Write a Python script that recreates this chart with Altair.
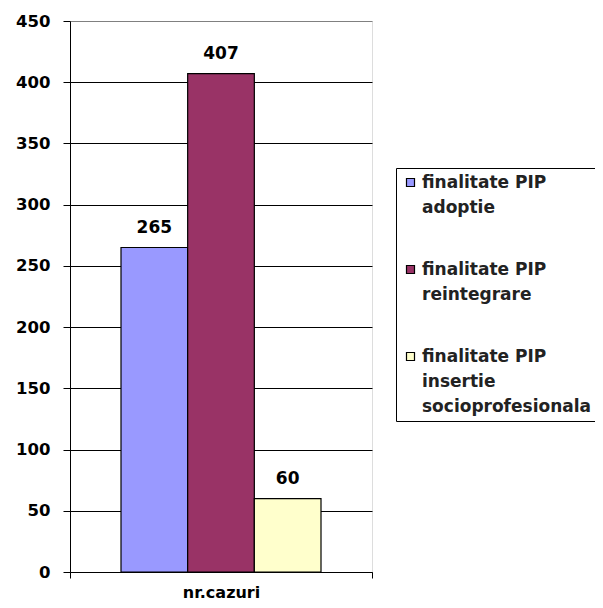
import altair as alt
import pandas as pd

categories = ["nr.cazuri"]
series = [
    "finalitate PIP|adoptie",
    "finalitate PIP|reintegrare",
    "finalitate PIP|insertie|socioprofesionala",
]
values = [265, 407, 60]
colors = ["#9999FF", "#993366", "#FFFFCC"]
y_ticks = [0, 50, 100, 150, 200, 250, 300, 350, 400, 450]

df = pd.DataFrame({
    "category": [categories[0]] * len(series),
    "series": series,
    "value": values,
})

FONT = "DejaVu Sans"

x = alt.X(
    "category:N",
    title=None,
    scale=alt.Scale(paddingInner=0, paddingOuter=0),
    axis=alt.Axis(
        labelAngle=0, tickBand="extent", tickSize=6, tickColor="black",
        domainColor="black", labelColor="black", labelFont=FONT,
        labelFontSize=16, labelFontWeight="bold", labelPadding=6, grid=False,
    ),
)
xo = alt.XOffset(
    "series:N", sort=series,
    scale=alt.Scale(paddingInner=0, paddingOuter=0.765),
)
y = alt.Y(
    "value:Q",
    title=None,
    scale=alt.Scale(domain=[0, 450], nice=False),
    axis=alt.Axis(
        values=y_ticks, tickSize=7, tickColor="black", domainColor="black",
        labelColor="black", labelFont=FONT, labelFontSize=16.5,
        labelFontWeight="bold", labelPadding=13, grid=True,
        gridColor={"condition": {"test": "datum.value === 450", "value": "#808080"}, "value": "black"},
        gridOpacity=1,
    ),
)
color = alt.Color(
    "series:N",
    sort=series,
    scale=alt.Scale(domain=series, range=colors),
    legend=alt.Legend(
        title=None, orient="none", legendX=326, legendY=147,
        labelExpr="split(datum.label, '|')",
        symbolType="square", symbolSize=64, symbolStrokeColor="black",
        symbolStrokeWidth=1.2, symbolOpacity=1,
        labelFont=FONT, labelFontSize=17, labelFontWeight="bold",
        labelColor="#222222", labelLimit=400, labelOffset=3,
        rowPadding=44, padding=6, strokeColor="black", fillColor="white",
    ),
)

bars = alt.Chart(df).mark_bar(stroke="black", strokeWidth=1.2, opacity=1).encode(
    x=x, xOffset=xo, y=y, color=color
)
labels = alt.Chart(df).mark_text(
    dy=-15, baseline="alphabetic", fontSize=17, fontWeight="bold",
    font=FONT, color="black",
).encode(x=x, xOffset=xo, y=y, text="value:Q")

chart = (
    alt.layer(bars, labels)
    .properties(
        width=302, height=551,
        autosize=alt.AutoSizeParams(type="none"),
        padding={"left": 62, "top": 13, "right": 223, "bottom": 28},
        background="white",
    )
    .configure_view(fill="#C0C0C0", stroke="#808080", strokeWidth=1)
    .configure(style={"guide-label": {"lineHeight": 25}})
)

chart.save("out.html", embed_options={"renderer": "svg", "actions": False})
